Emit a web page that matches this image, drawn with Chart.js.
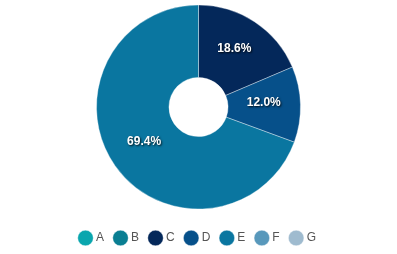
<!DOCTYPE html>
<html>
<head>
<meta charset="utf-8">
<script src="https://cdn.jsdelivr.net/npm/chart.js@4.4.1/dist/chart.umd.min.js"></script>
<style>
html,body{margin:0;padding:0;background:#fff;}
#wrap{width:397px;height:254px;}
</style>
</head>
<body>
<div id="wrap"><canvas id="c" width="397" height="254"></canvas></div>
<script>
const categories = ['A', 'B', 'C', 'D', 'E', 'F', 'G'];
const shares = [0, 0, 18.6, 12.0, 69.4, 0, 0];
const colors = ['#0aa6ae', '#0a7e92', '#04285a', '#06508a', '#0a76a0', '#5898bb', '#9fbbcf'];

const areaShift = {
  id: 'areaShift',
  afterLayout(chart) {
    chart.chartArea.bottom -= 6;
    chart.chartArea.height -= 6;
  }
};

const labelPlugin = {
  id: 'sliceLabels',
  afterDatasetsDraw(chart) {
    const ctx = chart.ctx;
    const meta = chart.getDatasetMeta(0);
    const data = chart.data.datasets[0].data;
    const total = data.reduce((a, b) => a + b, 0);
    ctx.save();
    ctx.font = 'bold 12px "Liberation Sans", Arial, sans-serif';
    ctx.textAlign = 'center';
    ctx.textBaseline = 'middle';
    ctx.fillStyle = '#ffffff';
    ctx.shadowColor = 'rgba(0,0,0,0.85)';
    ctx.shadowBlur = 2;
    ctx.shadowOffsetX = 1;
    ctx.shadowOffsetY = 1;
    meta.data.forEach((arc, i) => {
      const v = data[i];
      if (!v) return;
      const p = arc.tooltipPosition();
      ctx.fillText((v / total * 100).toFixed(1) + '%', p.x - 0.5, p.y - 3);
    });
    ctx.restore();
  }
};

new Chart(document.getElementById('c'), {
  type: 'doughnut',
  data: {
    labels: categories,
    datasets: [{
      data: shares,
      backgroundColor: colors,
      borderColor: 'rgba(255,255,255,0.6)',
      borderWidth: 0.6,
      hoverOffset: 0,
      radius: 102
    }]
  },
  options: {
    responsive: false,
    animation: false,
    cutout: '29%',
    layout: { padding: 0 },
    plugins: {
      tooltip: { enabled: false },
      legend: {
        position: 'bottom',
        labels: {
          usePointStyle: true,
          pointStyle: 'circle',
          boxWidth: 9,
          boxHeight: 11,
          padding: 12,
          color: '#555',
          font: { size: 12, family: '"Liberation Sans", Arial, sans-serif' }
        }
      }
    }
  },
  plugins: [areaShift, labelPlugin]
});
</script>
</body>
</html>
